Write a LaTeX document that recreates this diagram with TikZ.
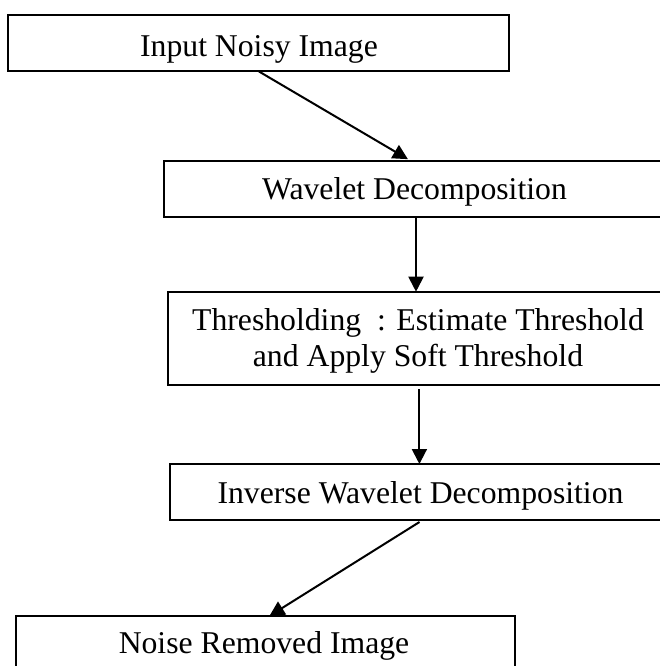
\documentclass[tikz,border=0pt]{standalone}
\usepackage{fontspec}
\setmainfont{Liberation Serif}
\usetikzlibrary{arrows.meta}
\begin{document}
\begin{tikzpicture}[x=1pt, y=-1pt,
  procbox/.style={draw, line width=2pt, rectangle, inner sep=0pt, outer sep=0pt, anchor=north west},
  lbl/.style={font=\fontsize{31.7}{36.7}\selectfont, inner sep=0pt, align=center},
  arr/.style={line width=2pt, -{Triangle[length=15pt, width=15pt]}}]
  \useasboundingbox (0,0) rectangle (660,666);
  \clip (0,0) rectangle (660,666);
  \fill[white] (0,0) rectangle (660,666);

  % process boxes
  \node[procbox, minimum width=501pt, minimum height=56pt] (b1) at (8.4,15.5) {};
  \node[procbox, minimum width=540pt, minimum height=56pt] (b2) at (164,160.7) {};
  \node[procbox, minimum width=540pt, minimum height=93.3pt] (b3) at (168.4,291.7) {};
  \node[procbox, minimum width=540pt, minimum height=56pt] (b4) at (170,464) {};
  \node[procbox, minimum width=499pt, minimum height=90pt] (b5) at (15.6,616) {};

  % labels
  \node[lbl, anchor=base] (t1) at (259,56.5) {Input Noisy Image};
  \node[lbl, anchor=base] (t2) at (414.5,199.3) {Wavelet Decomposition};
  \node[lbl] (t3) at (418,341) {Thresholding~~: Estimate Threshold\\and Apply Soft Threshold};
  \node[lbl, anchor=base] (t4) at (420.5,503.3) {Inverse Wavelet Decomposition};
  \node[lbl, anchor=base] (t5) at (264,653) {Noise Removed Image};

  % flow arrows
  \draw[arr, shorten >=3pt] ([xshift=250.6pt]b1.south west) -- ([xshift=246.5pt]b2.north west);
  \draw[arr] ([xshift=252pt]b2.south west) -- ([xshift=247.6pt]b3.north west);
  \draw[arr] ([xshift=251pt, yshift=-4pt]b3.south west) -- ([xshift=249.4pt]b4.north west);
  \draw[arr] ([xshift=249.5pt, yshift=-2pt]b4.south west) -- ([xshift=253.8pt]b5.north west);
\end{tikzpicture}
\end{document}
